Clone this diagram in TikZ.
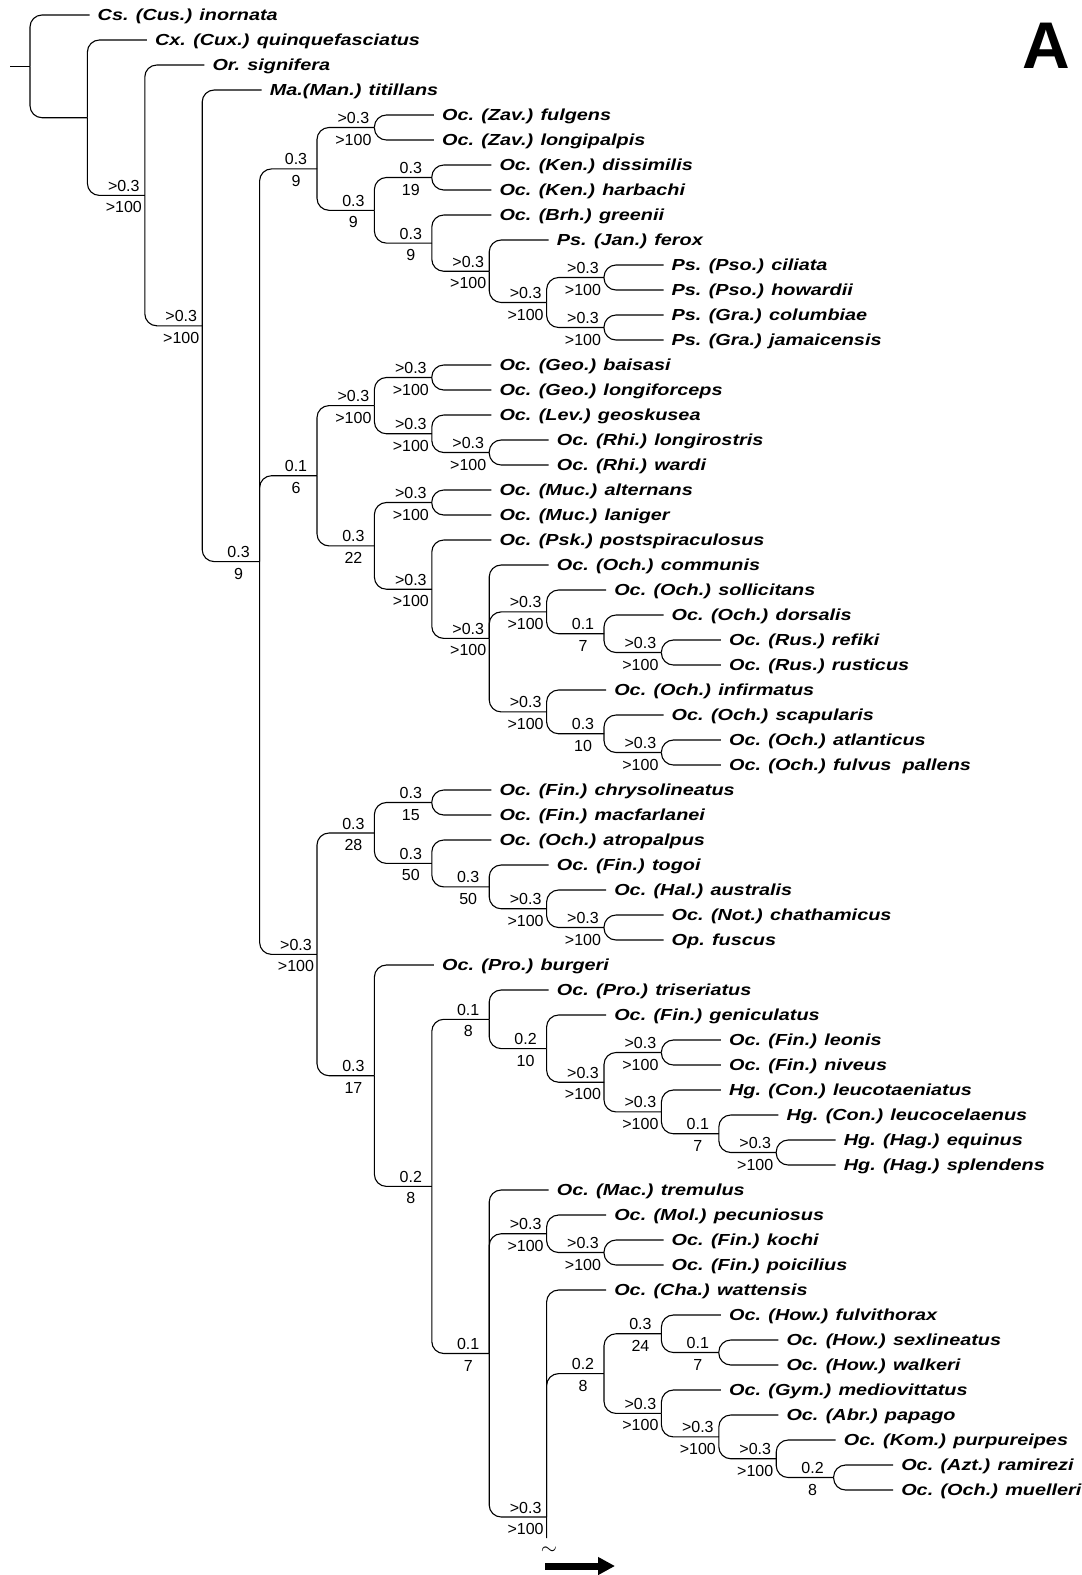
\documentclass[tikz,border=0pt]{standalone}
\usepackage{fontspec}
\setmainfont{Liberation Sans}
\newfontfamily\taxonfont[FakeStretch=1.24]{Liberation Sans}
\usetikzlibrary{arrows.meta}

\begin{document}
\begin{tikzpicture}[
  x=1pt, y=-1pt,
  taxon/.style={anchor=west, inner xsep=8pt, inner ysep=0pt,
                text height=11pt, text depth=0pt,
                font=\taxonfont\bfseries\itshape\fontsize{16}{16}\selectfont},
  lab/.style={anchor=base, inner sep=0pt, font=\fontsize{16}{16}\selectfont},
  branch/.style={line width=1.1pt, rounded corners=12pt}
]
\useasboundingbox (0,0) rectangle (1082,1575);

% taxa: name / row / column / label
\foreach \nm/\row/\col/\txt in {
  inornata/1/0/Cs. (Cus.) inornata,
  quinquefasciatus/2/1/Cx. (Cux.) quinquefasciatus,
  signifera/3/2/Or. signifera,
  titillans/4/3/Ma.(Man.) titillans,
  fulgens/5/6/Oc. (Zav.) fulgens,
  longipalpis/6/6/Oc. (Zav.) longipalpis,
  dissimilis/7/7/Oc. (Ken.) dissimilis,
  harbachi/8/7/Oc. (Ken.) harbachi,
  greenii/9/7/Oc. (Brh.) greenii,
  ferox/10/8/Ps. (Jan.) ferox,
  ciliata/11/10/Ps. (Pso.) ciliata,
  howardii/12/10/Ps. (Pso.) howardii,
  columbiae/13/10/Ps. (Gra.) columbiae,
  jamaicensis/14/10/Ps. (Gra.) jamaicensis,
  baisasi/15/7/Oc. (Geo.) baisasi,
  longiforceps/16/7/Oc. (Geo.) longiforceps,
  geoskusea/17/7/Oc. (Lev.) geoskusea,
  longirostris/18/8/Oc. (Rhi.) longirostris,
  wardi/19/8/Oc. (Rhi.) wardi,
  alternans/20/7/Oc. (Muc.) alternans,
  laniger/21/7/Oc. (Muc.) laniger,
  postspiraculosus/22/7/Oc. (Psk.) postspiraculosus,
  communis/23/8/Oc. (Och.) communis,
  sollicitans/24/9/Oc. (Och.) sollicitans,
  dorsalis/25/10/Oc. (Och.) dorsalis,
  refiki/26/11/Oc. (Rus.) refiki,
  rusticus/27/11/Oc. (Rus.) rusticus,
  infirmatus/28/9/Oc. (Och.) infirmatus,
  scapularis/29/10/Oc. (Och.) scapularis,
  atlanticus/30/11/Oc. (Och.) atlanticus,
  fulvus/31/11/Oc. (Och.) fulvus~~pallens,
  chrysolineatus/32/7/Oc. (Fin.) chrysolineatus,
  macfarlanei/33/7/Oc. (Fin.) macfarlanei,
  atropalpus/34/7/Oc. (Och.) atropalpus,
  togoi/35/8/Oc. (Fin.) togoi,
  australis/36/9/Oc. (Hal.) australis,
  chathamicus/37/10/Oc. (Not.) chathamicus,
  fuscus/38/10/Op. fuscus,
  burgeri/39/6/Oc. (Pro.) burgeri,
  triseriatus/40/8/Oc. (Pro.) triseriatus,
  geniculatus/41/9/Oc. (Fin.) geniculatus,
  leonis/42/11/Oc. (Fin.) leonis,
  niveus/43/11/Oc. (Fin.) niveus,
  leucotaeniatus/44/11/Hg. (Con.) leucotaeniatus,
  leucocelaenus/45/12/Hg. (Con.) leucocelaenus,
  equinus/46/13/Hg. (Hag.) equinus,
  splendens/47/13/Hg. (Hag.) splendens,
  tremulus/48/8/Oc. (Mac.) tremulus,
  pecuniosus/49/9/Oc. (Mol.) pecuniosus,
  kochi/50/10/Oc. (Fin.) kochi,
  poicilius/51/10/Oc. (Fin.) poicilius,
  wattensis/52/9/Oc. (Cha.) wattensis,
  fulvithorax/53/11/Oc. (How.) fulvithorax,
  sexlineatus/54/12/Oc. (How.) sexlineatus,
  walkeri/55/12/Oc. (How.) walkeri,
  mediovittatus/56/11/Oc. (Gym.) mediovittatus,
  papago/57/12/Oc. (Abr.) papago,
  purpureipes/58/13/Oc. (Kom.) purpureipes,
  ramirezi/59/14/Oc. (Azt.) ramirezi,
  muelleri/60/14/Oc. (Och.) muelleri}
  \node[taxon] (\nm) at ({89.5+57.4*\col},{15+25*(\row-1)}) {\txt};

% clades: name / depth / y / support above / support below
\coordinate (root) at (30,66.4);
\coordinate (A) at (87.4,117.7);
\foreach \nm/\dep/\yy/\up/\dn in {
  B/2/195.4/>0.3/>100, C/3/325.8/>0.3/>100, D/4/561.6/0.3/9,
  E/5/168.9/0.3/9, F/6/127.5/>0.3/>100, J/6/210.3/0.3/9,
  K/7/177.5/0.3/19, L/7/243.1/0.3/9, M/8/271.25/>0.3/>100,
  N/9/302.5/>0.3/>100, O/10/277.5/>0.3/>100, P/10/327.5/>0.3/>100,
  G/5/475.7/0.1/6, Q/6/405.6/>0.3/>100, S/7/377.5/>0.3/>100,
  T/7/433.75/>0.3/>100, U/8/452.5/>0.3/>100, R/6/545.9/0.3/22,
  V/7/502.5/>0.3/>100, W/7/589.2/>0.3/>100, X/8/638.4/>0.3/>100,
  Y/9/611.9/>0.3/>100, AA/10/633.75/0.1/7, AB/11/652.5/>0.3/>100,
  Z/9/711.9/>0.3/>100, AC/10/733.75/0.3/10, AD/11/752.5/>0.3/>100,
  I/5/954.4/>0.3/>100, AE/6/833/0.3/28, AG/7/802.5/0.3/15,
  AH/7/863.4/0.3/50, AI/8/886.9/0.3/50, AJ/9/908.75/>0.3/>100,
  AK/10/927.5/>0.3/>100, AF/6/1075.7/0.3/17, AL/7/1186.4/0.2/8,
  AM/8/1019.3/0.1/8, AO/9/1048.6/0.2/10, AP/10/1082.2/>0.3/>100,
  AQ/11/1052.5/>0.3/>100, AR/11/1111.9/>0.3/>100, AS/12/1133.75/0.1/7,
  AT/13/1152.5/>0.3/>100, AN/8/1353.5/0.1/7, AU/9/1233.75/>0.3/>100,
  AX/10/1252.5/>0.3/>100, AV/9/1517/>0.3/>100, AW/10/1373.6/0.2/8,
  AY/11/1333.75/0.3/24, BA/12/1352.5/0.1/7, AZ/11/1413.4/>0.3/>100,
  BB/12/1436.9/>0.3/>100, BC/13/1458.75/>0.3/>100, BD/14/1477.5/0.2/8}
{
  \coordinate (\nm) at ({30+57.4*\dep},\yy);
  \node[lab] (\nm-up) at ({9+57.4*\dep},{\yy-4}) {\up};
  \node[lab] (\nm-dn) at ({9+57.4*\dep},{\yy+17.5}) {\dn};
}

\foreach \pa/\ch in {
  root/inornata, root/A, A/quinquefasciatus, A/B, B/signifera, B/C,
  C/titillans, C/D, D/E, D/G, D/I,
  E/F, E/J, F/fulgens, F/longipalpis, J/K, J/L,
  K/dissimilis, K/harbachi, L/greenii, L/M, M/ferox, M/N, N/O, N/P,
  O/ciliata, O/howardii, P/columbiae, P/jamaicensis,
  G/Q, G/R, Q/S, Q/T, S/baisasi, S/longiforceps, T/geoskusea, T/U,
  U/longirostris, U/wardi, R/V, R/W, V/alternans, V/laniger,
  W/postspiraculosus, W/X, X/communis, X/Y, X/Z, Y/sollicitans, Y/AA,
  AA/dorsalis, AA/AB, AB/refiki, AB/rusticus, Z/infirmatus, Z/AC,
  AC/scapularis, AC/AD, AD/atlanticus, AD/fulvus,
  I/AE, I/AF, AE/AG, AE/AH, AG/chrysolineatus, AG/macfarlanei,
  AH/atropalpus, AH/AI, AI/togoi, AI/AJ, AJ/australis, AJ/AK,
  AK/chathamicus, AK/fuscus, AF/burgeri, AF/AL, AL/AM, AL/AN,
  AM/triseriatus, AM/AO, AO/geniculatus, AO/AP, AP/AQ, AP/AR,
  AQ/leonis, AQ/niveus, AR/leucotaeniatus, AR/AS, AS/leucocelaenus, AS/AT,
  AT/equinus, AT/splendens, AN/tremulus, AN/AU, AN/AV,
  AU/pecuniosus, AU/AX, AX/kochi, AX/poicilius, AV/wattensis, AV/AW,
  AW/AY, AW/AZ, AY/fulvithorax, AY/BA, BA/sexlineatus, BA/walkeri,
  AZ/mediovittatus, AZ/BB, BB/papago, BB/BC, BC/purpureipes, BC/BD,
  BD/ramirezi, BD/muelleri}
  \draw[branch] (\pa) |- (\ch);

\coordinate (stub) at (10,66.4);
\draw[branch] (stub) -- (root);
\coordinate (tail) at (546.6,1538);
\draw[branch] (AV) -- (tail);
\node[inner sep=0pt, font=\fontsize{20}{20}\selectfont] (tilde) at (549,1551) {$\sim$};

\coordinate (arrowtail) at (545,1566);
\coordinate (arrowtip) at (615,1566);
\draw[line width=7pt, -{Triangle[length=17pt,width=17pt]}] (arrowtail) -- (arrowtip);

\node[anchor=base west, inner sep=0pt, font=\bfseries\fontsize{66}{66}\selectfont] (panel) at (1022,68) {A};
\end{tikzpicture}
\end{document}
